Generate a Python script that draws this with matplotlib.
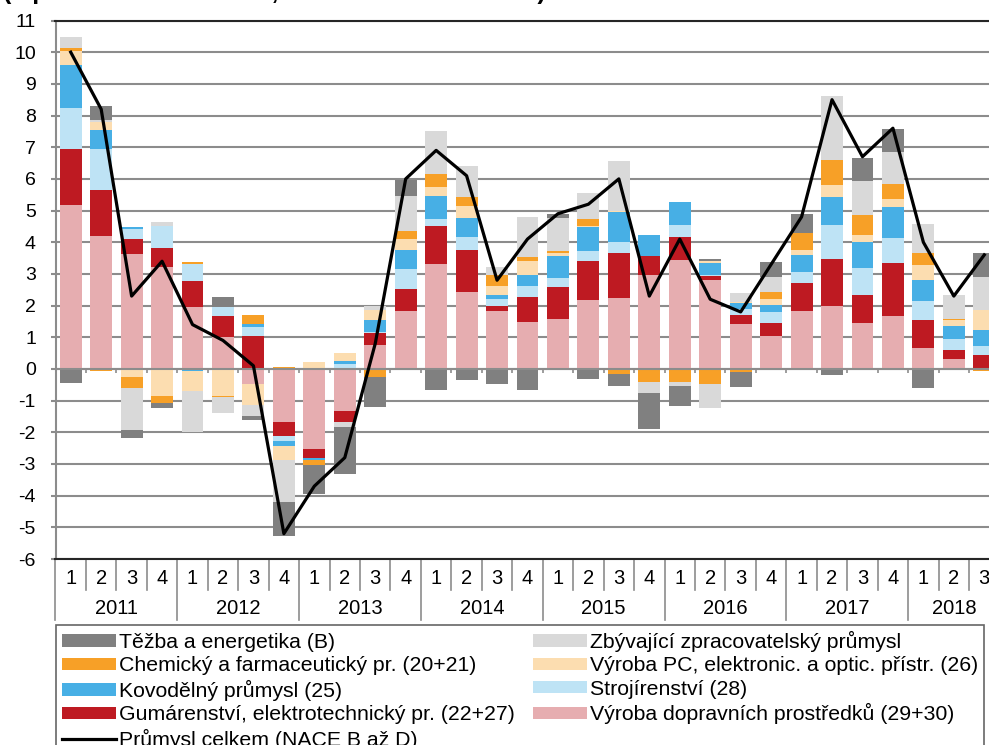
import numpy as np
import matplotlib.pyplot as plt
import matplotlib.transforms as mtransforms
from matplotlib.patches import Patch
from matplotlib.lines import Line2D

plt.rcParams['font.family'] = ['Liberation Sans', 'DejaVu Sans']
plt.rcParams['axes.unicode_minus'] = False

years = ['2011', '2012', '2013', '2014', '2015', '2016', '2017', '2018']
quarters = ['1', '2', '3', '4'] * 7 + ['1', '2', '3']

# contributions (p.b.), 2011Q1 .. 2018Q3
doprava = [5.16, 4.2, 3.63, 3.23, 1.95, 1.0, -0.47, -1.66, -2.54, -1.33, 0.76, 1.84, 3.32, 2.42, 1.84, 1.49,
           1.57, 2.18, 2.23, 2.95, 3.44, 2.81, 1.42, 1.04, 1.84, 2.0, 1.45, 1.67, 0.66, 0.31, 0.02]
gumarenstvi = [1.79, 1.45, 0.47, 0.58, 0.84, 0.67, 1.05, -0.45, -0.28, -0.34, 0.37, 0.67, 1.19, 1.32, 0.16, 0.79,
               1.03, 1.23, 1.42, 0.6, 0.74, 0.11, 0.27, 0.42, 0.87, 1.47, 0.87, 1.67, 0.89, 0.29, 0.43]
strojirenstvi = [1.28, 1.3, 0.32, 0.71, 0.52, 0.27, 0.27, -0.15, 0.03, 0.17, 0.03, 0.65, 0.23, 0.42, 0.21, 0.34,
                 0.28, 0.3, 0.37, 0.03, 0.37, 0.05, 0.19, 0.33, 0.36, 1.06, 0.86, 0.8, 0.61, 0.33, 0.29]
kovodelny = [1.35, 0.6, 0.07, 0.0, -0.05, 0.0, 0.1, -0.17, -0.05, 0.07, 0.37, 0.58, 0.73, 0.6, 0.14, 0.35,
             0.69, 0.78, 0.93, 0.66, 0.73, 0.37, 0.21, 0.23, 0.53, 0.91, 0.82, 0.97, 0.66, 0.41, 0.49]
vyroba_pc = [0.47, 0.23, -0.24, -0.84, -0.66, -0.84, -0.66, -0.44, 0.2, 0.25, 0.32, 0.37, 0.27, 0.37, 0.26, 0.44,
             0.08, 0.03, 0.04, 0.0, 0.0, 0.06, 0.03, 0.19, 0.14, 0.37, 0.24, 0.24, 0.47, 0.19, 0.64]
chemicky = [0.09, -0.08, -0.35, -0.24, 0.07, -0.06, 0.29, 0.05, -0.17, 0.0, -0.24, 0.23, 0.4, 0.29, 0.37, 0.11,
            0.08, 0.22, -0.17, -0.4, -0.4, -0.47, -0.1, 0.23, 0.54, 0.8, 0.63, 0.49, 0.37, 0.04, -0.08]
zbyvajici = [0.33, 0.08, -1.34, 0.11, -1.27, -0.48, -0.35, -1.32, 0.0, -0.16, 0.15, 1.13, 1.37, 0.98, 0.25, 1.29,
             1.02, 0.81, 1.56, -0.37, -0.14, -0.77, 0.27, 0.45, 0.0, 2.02, 1.06, 1.0, 0.9, 0.77, 1.02]
tezba = [-0.45, 0.44, -0.26, -0.14, 0.0, 0.34, -0.13, -1.07, -0.9, -1.49, -0.95, 0.51, -0.65, -0.34, -0.47, -0.68,
         0.13, -0.33, -0.37, -1.13, -0.63, 0.07, -0.47, 0.5, 0.61, -0.18, 0.73, 0.74, -0.6, 0.0, 0.77]
celkem = [10.0, 8.2, 2.3, 3.4, 1.4, 0.9, 0.1, -5.2, -3.7, -2.8, 0.8, 6.0, 6.9, 6.1, 2.8, 4.1,
          4.9, 5.2, 6.0, 2.3, 4.1, 2.2, 1.8, 3.3, 4.8, 8.5, 6.7, 7.6, 4.0, 2.3, 3.6]

series = [
    ('Výroba dopravních prostředků (29+30)', doprava, '#e6adb0'),
    ('Gumárenství, elektrotechnický pr. (22+27)', gumarenstvi, '#be1a22'),
    ('Strojírenství (28)', strojirenstvi, '#bee3f5'),
    ('Kovodělný průmysl (25)', kovodelny, '#47afe5'),
    ('Výroba PC, elektronic. a optic. přístr. (26)', vyroba_pc, '#fcddb0'),
    ('Chemický a farmaceutický pr. (20+21)', chemicky, '#f7a027'),
    ('Zbývající zpracovatelský průmysl', zbyvajici, '#d9d9d9'),
    ('Těžba a energetika (B)', tezba, '#808080'),
]

fig = plt.figure(figsize=(9.89, 7.45), dpi=100)
ax = fig.add_axes([55.5 / 989, 1 - 559 / 745, 944 / 989, 538.5 / 745])

x = np.arange(len(celkem))
pos = np.zeros(len(x))
neg = np.zeros(len(x))
for name, vals, col in series:
    v = np.array(vals)
    bottom = np.where(v >= 0, pos, neg)
    ax.bar(x, v, 0.72, bottom=bottom, color=col, zorder=2)
    pos += np.where(v >= 0, v, 0)
    neg += np.where(v < 0, v, 0)

ax.plot(x, celkem, color='black', lw=2.3, zorder=4)

ax.set_xlim(-0.5, 30.5)
ax.set_ylim(-6, 11)
ax.set_yticks(range(-6, 12))
ax.set_xticks([])
ax.yaxis.grid(True, color='#8c8c8c', lw=1.5, zorder=0)
ax.set_axisbelow(True)
ax.axhline(0, color='#8c8c8c', lw=1.5, zorder=3)
ax.tick_params(axis='y', length=3.6, width=1.5, color='#8c8c8c', pad=10.5, labelsize=14)
for s in ['top', 'bottom']:
    ax.spines[s].set_color('#262626')
    ax.spines[s].set_linewidth(1.5)
ax.spines['left'].set_color('#8c8c8c')
ax.spines['left'].set_linewidth(1.5)
ax.spines['right'].set_visible(False)

# small ticks at zero line between quarters
ax.vlines(np.arange(-0.5, 31), 0, -0.13, color='#8c8c8c', lw=1.2, zorder=3)

# category labels under the axis
trans = mtransforms.blended_transform_factory(ax.transData, ax.transAxes)
for i, q in enumerate(quarters):
    ax.text(i, -0.036, q, transform=trans, ha='center', va='center', fontsize=14.5)
for k, yr in enumerate(years):
    n = 3 if yr == '2018' else 4
    ax.text(4 * k + (n - 1) / 2, -0.092, yr, transform=trans, ha='center', va='center', fontsize=14.5)
for b in np.arange(-0.5, 31):
    length = 0.113 if (b + 0.5) % 4 == 0 else 0.058
    ax.plot([b, b], [0, -length], transform=trans, color='#8c8c8c', lw=1.2, clip_on=False)

# heading, cut off by the top edge as in the source
fig.text(3 / 989, 1 + 1.5 / 745, '(v procentních bodech, meziroční změna v %)', fontsize=18,
         fontweight='bold', va='baseline')

names = {s[0]: s for s in series}
def patch(name):
    return Patch(facecolor=names[name][2], label=name)

handles = [
    patch('Těžba a energetika (B)'),
    patch('Chemický a farmaceutický pr. (20+21)'),
    patch('Kovodělný průmysl (25)'),
    patch('Gumárenství, elektrotechnický pr. (22+27)'),
    Line2D([], [], color='black', lw=2.3, label='Průmysl celkem (NACE B až D)'),
    patch('Zbývající zpracovatelský průmysl'),
    patch('Výroba PC, elektronic. a optic. přístr. (26)'),
    patch('Strojírenství (28)'),
    patch('Výroba dopravních prostředků (29+30)'),
]
leg = fig.legend(handles=handles, ncol=2, loc='upper left', bbox_to_anchor=(56 / 989, 1 - 625 / 745),
                 fontsize=15.3, frameon=True, fancybox=False, borderaxespad=0, borderpad=0.28,
                 handlelength=2.54, handleheight=0.5, handletextpad=0.14, labelspacing=0.21,
                 columnspacing=0.85)
leg.get_frame().set_edgecolor('#404040')
leg.get_frame().set_linewidth(1.2)

fig.savefig('out.png', dpi=100)
